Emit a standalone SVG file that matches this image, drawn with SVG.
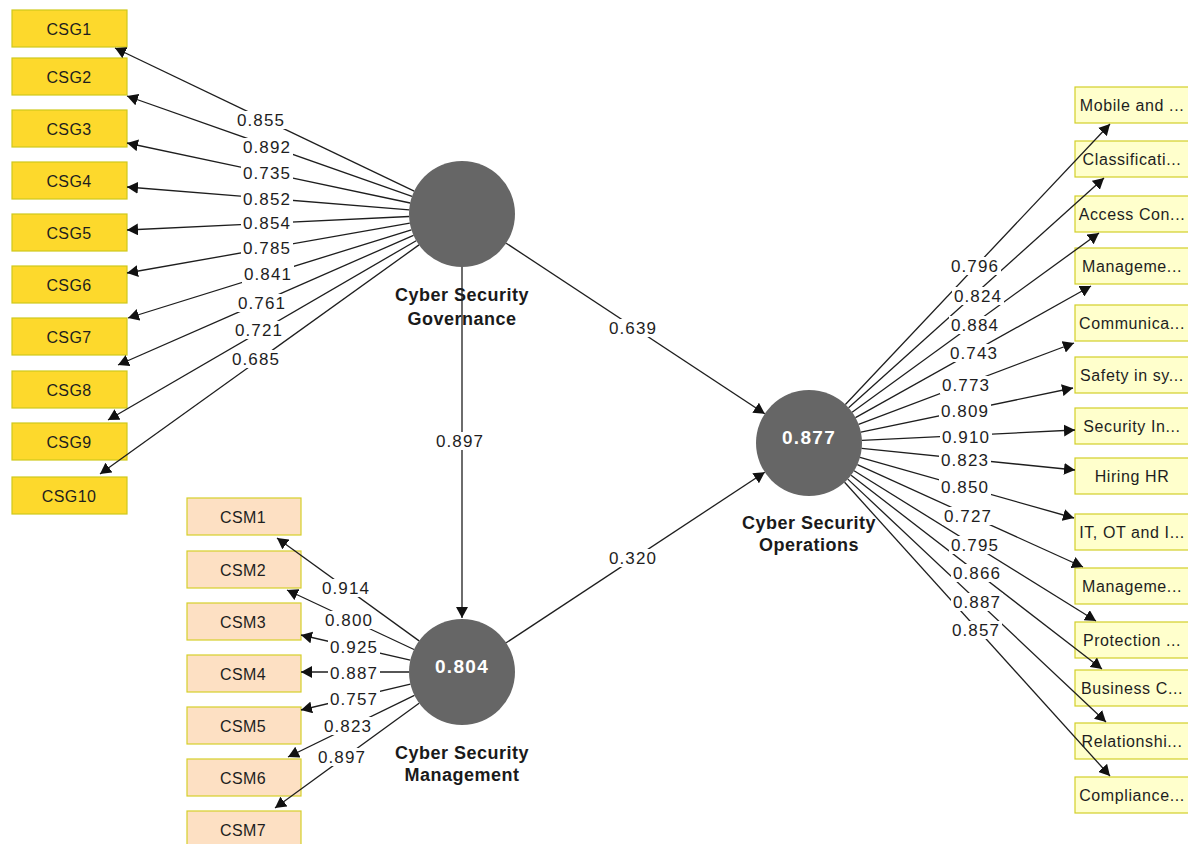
<svg xmlns="http://www.w3.org/2000/svg" width="1188" height="844" viewBox="0 0 1188 844">
  <style>
    .bg { fill: #ffffff; }
    .csg rect { fill: #fdd92c; stroke: #cfc81c; stroke-width: 1.2; }
    .csm rect { fill: #fde0c3; stroke: #d6cf2a; stroke-width: 1.2; }
    .ops-ind rect { fill: #ffffcc; stroke: #d2cf28; stroke-width: 1.2; }
    .box-text { font-family: "Liberation Sans", Arial, sans-serif; font-size: 16px; letter-spacing: 0.4px; fill: #1e1e1e; text-anchor: middle; }
    .ind-text { font-family: "Liberation Sans", Arial, sans-serif; font-size: 16px; letter-spacing: 0.6px; fill: #1e1e1e; text-anchor: middle; }
    .lv { fill: #666666; }
    .lv-val { font-family: "Liberation Sans", Arial, sans-serif; font-weight: bold; font-size: 19px; letter-spacing: 1.3px; fill: #ffffff; text-anchor: middle; }
    .lv-name { font-family: "Liberation Sans", Arial, sans-serif; font-weight: bold; font-size: 18px; letter-spacing: 0.5px; fill: #1a1a1a; text-anchor: middle; }
    .conn line { stroke: #1e1e1e; stroke-width: 1.3; marker-end: url(#arrow); }
    .coef rect { fill: #ffffff; }
    .coef text { font-family: "Liberation Sans", Arial, sans-serif; font-size: 17px; letter-spacing: 1.1px; fill: #1e1e1e; text-anchor: middle; }
  </style>
  <defs>
    <marker id="arrow" markerUnits="userSpaceOnUse" markerWidth="11" markerHeight="12" viewBox="0 0 11 12" refX="11" refY="6" orient="auto">
      <path d="M0,0 L11,6 L0,12 z" fill="#111"/>
    </marker>
  </defs>

  <rect class="bg" x="0" y="0" width="1188" height="844"/>

  <!-- Governance indicators -->
  <g id="CSG1" class="csg"><rect x="12" y="10" width="115" height="37"/><text class="box-text" x="69" y="34.5">CSG1</text></g>
  <g id="CSG2" class="csg"><rect x="12" y="58" width="115" height="37"/><text class="box-text" x="69" y="82.5">CSG2</text></g>
  <g id="CSG3" class="csg"><rect x="12" y="110" width="115" height="37"/><text class="box-text" x="69" y="134.5">CSG3</text></g>
  <g id="CSG4" class="csg"><rect x="12" y="162" width="115" height="37"/><text class="box-text" x="69" y="186.5">CSG4</text></g>
  <g id="CSG5" class="csg"><rect x="12" y="214" width="115" height="37"/><text class="box-text" x="69" y="238.5">CSG5</text></g>
  <g id="CSG6" class="csg"><rect x="12" y="266" width="115" height="37"/><text class="box-text" x="69" y="290.5">CSG6</text></g>
  <g id="CSG7" class="csg"><rect x="12" y="318" width="115" height="37"/><text class="box-text" x="69" y="342.5">CSG7</text></g>
  <g id="CSG8" class="csg"><rect x="12" y="371" width="115" height="37"/><text class="box-text" x="69" y="395.5">CSG8</text></g>
  <g id="CSG9" class="csg"><rect x="12" y="423" width="115" height="37"/><text class="box-text" x="69" y="447.5">CSG9</text></g>
  <g id="CSG10" class="csg"><rect x="12" y="477" width="115" height="37"/><text class="box-text" x="69" y="501.5">CSG10</text></g>

  <!-- Management indicators -->
  <g id="CSM1" class="csm"><rect x="187" y="498" width="114" height="37"/><text class="box-text" x="243" y="522.5">CSM1</text></g>
  <g id="CSM2" class="csm"><rect x="187" y="551" width="114" height="37"/><text class="box-text" x="243" y="575.5">CSM2</text></g>
  <g id="CSM3" class="csm"><rect x="187" y="603" width="114" height="37"/><text class="box-text" x="243" y="627.5">CSM3</text></g>
  <g id="CSM4" class="csm"><rect x="187" y="655" width="114" height="37"/><text class="box-text" x="243" y="679.5">CSM4</text></g>
  <g id="CSM5" class="csm"><rect x="187" y="707" width="114" height="37"/><text class="box-text" x="243" y="731.5">CSM5</text></g>
  <g id="CSM6" class="csm"><rect x="187" y="759" width="114" height="37"/><text class="box-text" x="243" y="783.5">CSM6</text></g>
  <g id="CSM7" class="csm"><rect x="187" y="811" width="114" height="37"/><text class="box-text" x="243" y="835.5">CSM7</text></g>

  <!-- Operations indicators -->
  <g id="OPS1" class="ops-ind"><rect x="1075" y="87" width="116" height="36"/><text class="ind-text" x="1132" y="111">Mobile and ...</text></g>
  <g id="OPS2" class="ops-ind"><rect x="1075" y="141" width="116" height="36"/><text class="ind-text" x="1132" y="165">Classificati...</text></g>
  <g id="OPS3" class="ops-ind"><rect x="1075" y="196" width="116" height="36"/><text class="ind-text" x="1132" y="220">Access Con...</text></g>
  <g id="OPS4" class="ops-ind"><rect x="1075" y="248" width="116" height="36"/><text class="ind-text" x="1132" y="272">Manageme...</text></g>
  <g id="OPS5" class="ops-ind"><rect x="1075" y="305" width="116" height="36"/><text class="ind-text" x="1132" y="329">Communica...</text></g>
  <g id="OPS6" class="ops-ind"><rect x="1075" y="357" width="116" height="36"/><text class="ind-text" x="1132" y="381">Safety in sy...</text></g>
  <g id="OPS7" class="ops-ind"><rect x="1075" y="408" width="116" height="36"/><text class="ind-text" x="1132" y="432">Security In...</text></g>
  <g id="OPS8" class="ops-ind"><rect x="1075" y="458" width="116" height="36"/><text class="ind-text" x="1132" y="482">Hiring HR</text></g>
  <g id="OPS9" class="ops-ind"><rect x="1075" y="514" width="116" height="36"/><text class="ind-text" x="1132" y="538">IT, OT and I...</text></g>
  <g id="OPS10" class="ops-ind"><rect x="1075" y="568" width="116" height="36"/><text class="ind-text" x="1132" y="592">Manageme...</text></g>
  <g id="OPS11" class="ops-ind"><rect x="1075" y="622" width="116" height="36"/><text class="ind-text" x="1132" y="646">Protection ...</text></g>
  <g id="OPS12" class="ops-ind"><rect x="1075" y="670" width="116" height="36"/><text class="ind-text" x="1132" y="694">Business C...</text></g>
  <g id="OPS13" class="ops-ind"><rect x="1075" y="723" width="116" height="36"/><text class="ind-text" x="1132" y="747">Relationshi...</text></g>
  <g id="OPS14" class="ops-ind"><rect x="1075" y="777" width="116" height="36"/><text class="ind-text" x="1132" y="801">Compliance...</text></g>

  <!-- Latent constructs -->
  <g id="governance">
    <circle class="lv" cx="462" cy="214" r="53"/>
    <text class="lv-name" x="462" y="301">Cyber Security</text>
    <text class="lv-name" x="462" y="325">Governance</text>
  </g>
  <g id="management">
    <circle class="lv" cx="462" cy="672" r="53"/>
    <text class="lv-val" x="462" y="673">0.804</text>
    <text class="lv-name" x="462" y="759">Cyber Security</text>
    <text class="lv-name" x="462" y="781">Management</text>
  </g>
  <g id="operations">
    <circle class="lv" cx="809" cy="443" r="53"/>
    <text class="lv-val" x="809" y="444">0.877</text>
    <text class="lv-name" x="809" y="529">Cyber Security</text>
    <text class="lv-name" x="809" y="551">Operations</text>
  </g>

  <!-- Connectors -->
  <g id="connectors" class="conn">
    <!-- structural paths -->
    <line x1="462" y1="267" x2="462" y2="618"/>
    <line x1="506.2" y1="243.2" x2="764.8" y2="413.8"/>
    <line x1="506.2" y1="642.8" x2="764.8" y2="472.2"/>
    <!-- governance loadings -->
    <line x1="414.2" y1="191.1" x2="115" y2="48"/>
    <line x1="412.0" y1="196.4" x2="127" y2="96"/>
    <line x1="410.2" y1="203.0" x2="127" y2="143"/>
    <line x1="409.2" y1="209.8" x2="127" y2="187"/>
    <line x1="409.1" y1="216.5" x2="127" y2="230"/>
    <line x1="409.8" y1="223.2" x2="127" y2="273"/>
    <line x1="411.4" y1="229.8" x2="128" y2="318"/>
    <line x1="413.5" y1="235.3" x2="118" y2="365"/>
    <line x1="416.2" y1="240.7" x2="108" y2="420"/>
    <line x1="419.0" y1="244.9" x2="100" y2="474"/>
    <!-- management loadings -->
    <line x1="419.1" y1="640.9" x2="277" y2="538"/>
    <line x1="414.0" y1="649.5" x2="287" y2="590"/>
    <line x1="410.3" y1="660.1" x2="301" y2="635"/>
    <line x1="409" y1="672" x2="301" y2="672"/>
    <line x1="410.4" y1="684.2" x2="301" y2="710"/>
    <line x1="414.4" y1="695.3" x2="288" y2="757"/>
    <line x1="419.1" y1="703.2" x2="275" y2="808"/>
    <!-- operations loadings -->
    <line x1="845.4" y1="404.5" x2="1110" y2="124"/>
    <line x1="848.6" y1="407.8" x2="1104" y2="178"/>
    <line x1="852.1" y1="412.2" x2="1099" y2="233"/>
    <line x1="855.5" y1="417.6" x2="1091" y2="286"/>
    <line x1="858.6" y1="424.3" x2="1074" y2="343"/>
    <line x1="860.9" y1="432.2" x2="1073" y2="388"/>
    <line x1="861.9" y1="440.4" x2="1075" y2="430"/>
    <line x1="861.7" y1="448.4" x2="1075" y2="470"/>
    <line x1="860.0" y1="457.4" x2="1074" y2="518"/>
    <line x1="857.4" y1="464.7" x2="1083" y2="567"/>
    <line x1="854.1" y1="470.8" x2="1096" y2="621"/>
    <line x1="851.1" y1="475.2" x2="1102" y2="669"/>
    <line x1="847.8" y1="479.1" x2="1106" y2="722"/>
    <line x1="844.6" y1="482.3" x2="1110" y2="776"/>
  </g>

  <!-- Path coefficients and loadings -->
  <g id="coefficients" class="coef">
    <rect x="607" y="319" width="52" height="18"/><text x="633" y="334">0.639</text>
    <rect x="607" y="549" width="52" height="18"/><text x="633" y="564">0.320</text>
    <rect x="434" y="432" width="52" height="18"/><text x="460" y="447">0.897</text>

    <rect x="235" y="111" width="52" height="18"/><text x="261" y="126">0.855</text>
    <rect x="241" y="138" width="52" height="18"/><text x="267" y="153">0.892</text>
    <rect x="241" y="164" width="52" height="18"/><text x="267" y="179">0.735</text>
    <rect x="241" y="190" width="52" height="18"/><text x="267" y="205">0.852</text>
    <rect x="241" y="214" width="52" height="18"/><text x="267" y="229">0.854</text>
    <rect x="241" y="239" width="52" height="18"/><text x="267" y="254">0.785</text>
    <rect x="242" y="265" width="52" height="18"/><text x="268" y="280">0.841</text>
    <rect x="236" y="294" width="52" height="18"/><text x="262" y="309">0.761</text>
    <rect x="233" y="321" width="52" height="18"/><text x="259" y="336">0.721</text>
    <rect x="230" y="350" width="52" height="18"/><text x="256" y="365">0.685</text>

    <rect x="320" y="579" width="52" height="18"/><text x="346" y="594">0.914</text>
    <rect x="323" y="611" width="52" height="18"/><text x="349" y="626">0.800</text>
    <rect x="328" y="638" width="52" height="18"/><text x="354" y="653">0.925</text>
    <rect x="328" y="664" width="52" height="18"/><text x="354" y="679">0.887</text>
    <rect x="328" y="690" width="52" height="18"/><text x="354" y="705">0.757</text>
    <rect x="322" y="717" width="52" height="18"/><text x="348" y="732">0.823</text>
    <rect x="316" y="748" width="52" height="18"/><text x="342" y="763">0.897</text>

    <rect x="949" y="257" width="52" height="18"/><text x="975" y="272">0.796</text>
    <rect x="952" y="287" width="52" height="18"/><text x="978" y="302">0.824</text>
    <rect x="949" y="316" width="52" height="18"/><text x="975" y="331">0.884</text>
    <rect x="948" y="344" width="52" height="18"/><text x="974" y="359">0.743</text>
    <rect x="940" y="376" width="52" height="18"/><text x="966" y="391">0.773</text>
    <rect x="939" y="402" width="52" height="18"/><text x="965" y="417">0.809</text>
    <rect x="940" y="428" width="52" height="18"/><text x="966" y="443">0.910</text>
    <rect x="939" y="451" width="52" height="18"/><text x="965" y="466">0.823</text>
    <rect x="939" y="478" width="52" height="18"/><text x="965" y="493">0.850</text>
    <rect x="942" y="507" width="52" height="18"/><text x="968" y="522">0.727</text>
    <rect x="949" y="536" width="52" height="18"/><text x="975" y="551">0.795</text>
    <rect x="951" y="564" width="52" height="18"/><text x="977" y="579">0.866</text>
    <rect x="951" y="593" width="52" height="18"/><text x="977" y="608">0.887</text>
    <rect x="950" y="621" width="52" height="18"/><text x="976" y="636">0.857</text>
  </g>
</svg>
